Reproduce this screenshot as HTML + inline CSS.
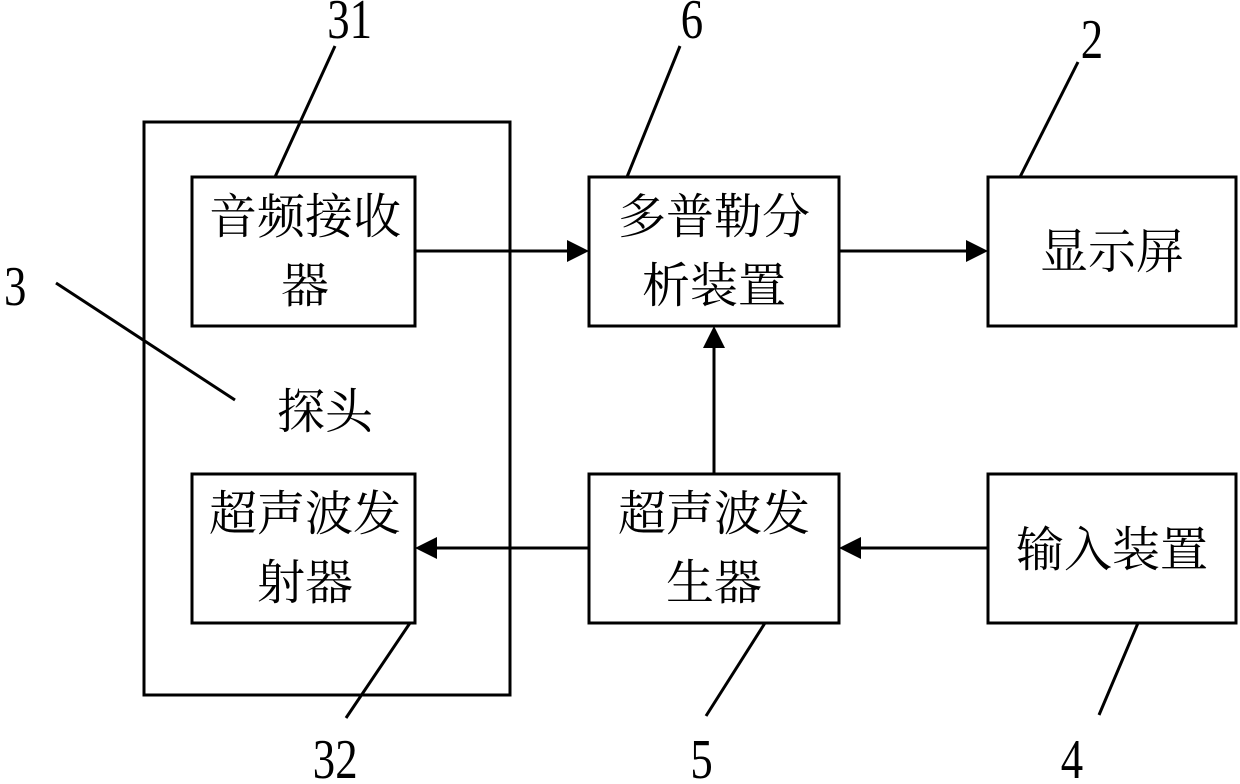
<!DOCTYPE html>
<html><head><meta charset="utf-8"><style>
html,body{margin:0;padding:0;background:#fff;}
svg{display:block}
.c{font-family:"Liberation Serif","Noto Serif CJK SC","Noto Sans CJK SC",serif;font-size:48px;fill:#000}
.n{font-family:"Liberation Serif",serif;font-size:56px;fill:#000}
</style></head><body>
<svg width="1240" height="784" viewBox="0 0 1240 784" xmlns="http://www.w3.org/2000/svg">
<g fill="none" stroke="#000" stroke-width="3">
<rect x="144" y="122" width="366" height="573"/>
<rect x="192" y="177" width="223" height="149"/>
<rect x="589" y="177" width="250" height="149"/>
<rect x="988" y="177" width="248" height="149"/>
<rect x="192" y="474" width="223" height="149"/>
<rect x="589" y="474" width="250" height="149"/>
<rect x="988" y="474" width="248" height="149"/>
<line x1="415" y1="251" x2="568" y2="251"/>
<line x1="839" y1="251" x2="967" y2="251"/>
<line x1="714" y1="474" x2="714" y2="347"/>
<line x1="589" y1="548" x2="436" y2="548"/>
<line x1="988" y1="548" x2="860" y2="548"/>
<line x1="335" y1="46" x2="275" y2="177"/>
<line x1="680" y1="46" x2="627" y2="177"/>
<line x1="1078" y1="62" x2="1020" y2="177"/>
<line x1="56" y1="283" x2="235" y2="400"/>
<line x1="410" y1="623" x2="346" y2="718"/>
<line x1="765" y1="623" x2="706" y2="716"/>
<line x1="1138" y1="623" x2="1099" y2="715"/>
</g>
<g fill="#000">
<polygon points="589,251 567,240 567,262"/>
<polygon points="988,251 966,240 966,262"/>
<polygon points="714,326 703,348 725,348"/>
<polygon points="415,548 437,537 437,559"/>
<polygon points="839,548 861,537 861,559"/>
</g>
<text class="c" x="305" y="233" text-anchor="middle">音频接收</text>
<text class="c" x="305" y="302" text-anchor="middle">器</text>
<text class="c" x="714" y="233" text-anchor="middle">多普勒分</text>
<text class="c" x="714" y="302" text-anchor="middle">析装置</text>
<text class="c" x="1112" y="268" text-anchor="middle">显示屏</text>
<text class="c" x="305" y="530" text-anchor="middle">超声波发</text>
<text class="c" x="305" y="599" text-anchor="middle">射器</text>
<text class="c" x="714" y="530" text-anchor="middle">超声波发</text>
<text class="c" x="714" y="599" text-anchor="middle">生器</text>
<text class="c" x="1112" y="566" text-anchor="middle">输入装置</text>
<text class="c" x="325" y="428" text-anchor="middle">探头</text>
<g transform="scale(0.8,1)">
<text class="n" x="437" y="38" text-anchor="middle">31</text>
<text class="n" x="865" y="38" text-anchor="middle">6</text>
<text class="n" x="1365" y="58" text-anchor="middle">2</text>
<text class="n" x="19" y="305" text-anchor="middle">3</text>
<text class="n" x="419" y="778" text-anchor="middle">32</text>
<text class="n" x="877" y="778" text-anchor="middle">5</text>
<text class="n" x="1340" y="778" text-anchor="middle">4</text>
</g>
</svg>
</body></html>
